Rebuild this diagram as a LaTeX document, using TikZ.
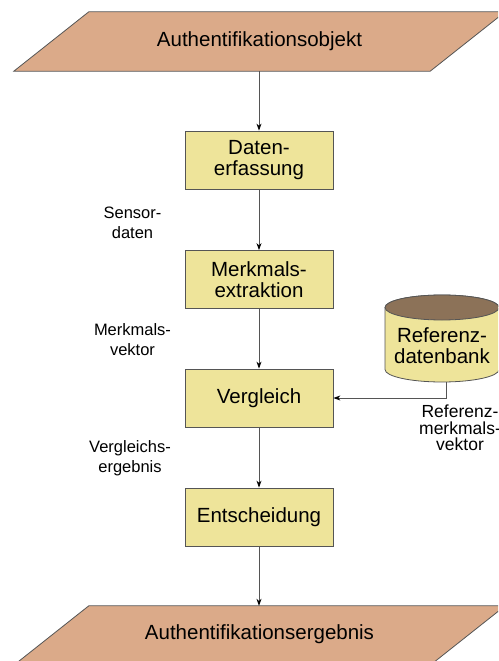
\documentclass[tikz,border=0pt]{standalone}
\usepackage{fontspec}
\setmainfont{Liberation Sans}
\usetikzlibrary{arrows.meta}
\definecolor{ioFill}{RGB}{219,170,137}
\definecolor{stepFill}{RGB}{238,228,154}
\definecolor{dbTop}{RGB}{140,114,88}
\definecolor{edgeGray}{RGB}{85,85,85}
\begin{document}
\begin{tikzpicture}[x=1pt,y=-1pt,
  stepbox/.style={draw=edgeGray,line width=0.8pt,fill=stepFill,minimum width=148pt,
    minimum height=58pt,inner sep=0pt,align=center,
    font=\fontsize{20.5}{20.5}\selectfont},
  iobox/.style={minimum width=491pt,minimum height=59pt,inner sep=0pt,
    font=\fontsize{20.5}{24}\selectfont},
  sidelabel/.style={align=center,inner sep=0pt,font=\fontsize{16.5}{20}\selectfont},
  flow/.style={draw=edgeGray,line width=0.8pt,-{Stealth[length=7pt,width=5pt,color=black]}}
]
\useasboundingbox (0,0) rectangle (498,661);
\clip (0,0) rectangle (498,661);

% input and output parallelograms
\node[iobox] (obj) at (259.5,41.5) {};
\fill[ioFill,draw=edgeGray,line width=0.8pt]
  (obj.south west) -- ([xshift=-75pt]obj.south east) -- (obj.north east)
  -- ([xshift=75pt]obj.north west) -- cycle;
\node[iobox] at (obj.center) {Authentifikationsobjekt};

\node[iobox] (res) at (259.5,635.5) {};
\fill[ioFill,draw=edgeGray,line width=0.8pt]
  (res.south west) -- ([xshift=-75pt]res.south east) -- (res.north east)
  -- ([xshift=75pt]res.north west) -- cycle;
\node[iobox] at ([yshift=1pt]res.center) {Authentifikationsergebnis};

% processing steps
\node[stepbox] (cap) at (259,160) {Daten-\\erfassung};
\node[stepbox] (ext) at (259,279.5) {Merkmals-\\extraktion};
\node[stepbox] (cmp) at (259,398) {Vergleich};
\node[stepbox] (dec) at (259,517) {Entscheidung};

% reference database cylinder
\fill[stepFill,draw=edgeGray,line width=0.8pt]
  (385,307.5) -- (385,369.5) arc[start angle=180,end angle=360,x radius=57,y radius=-12.5]
  -- (499,307.5) arc[start angle=0,end angle=180,x radius=57,y radius=-12.5] -- cycle;
\fill[dbTop,draw=edgeGray,line width=0.8pt] (442,307.5) ellipse[x radius=57,y radius=12.5];
\node[align=center,inner sep=0pt,font=\fontsize{20.5}{21}\selectfont] (db) at (442,346)
  {Referenz-\\datenbank};
\coordinate (dbout) at (446,382);
\coordinate (dbbend) at (446,398);

% connectors
\draw[flow] (obj.south -| cap.north) -- (cap.north);
\draw[flow] (cap) -- (ext);
\draw[flow] (ext) -- (cmp);
\draw[flow] (cmp) -- (dec);
\draw[flow] (dec.south) -- (dec.south |- res.north);
\draw[flow] (dbout) -- (dbbend) -- (cmp.east);

% data labels
\node[sidelabel] (l1) at (132.5,223) {Sensor-\\daten};
\node[sidelabel] (l2) at (132.5,340) {Merkmals-\\vektor};
\node[sidelabel] (l3) at (130,458) {Vergleichs-\\ergebnis};
\node[align=center,inner sep=0pt,font=\fontsize{17.5}{16.5}\selectfont] (l4) at (460,428)
  {Referenz-\\merkmals-\\vektor};
\end{tikzpicture}
\end{document}
